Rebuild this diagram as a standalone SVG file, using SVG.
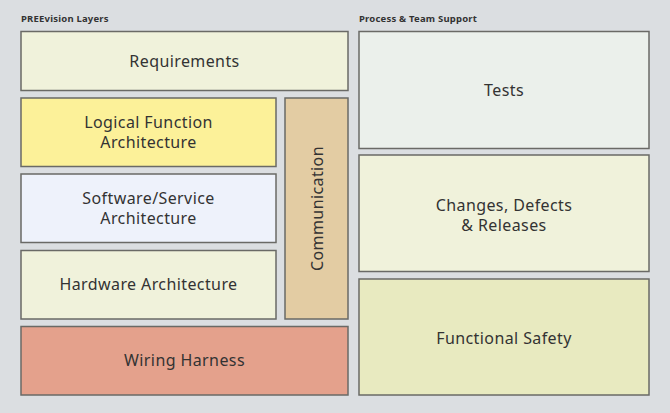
<svg xmlns="http://www.w3.org/2000/svg" width="670" height="413" viewBox="0 0 670 413">
<style>
.bg{fill:#dbdee1}
.box{stroke:#6a6a66;stroke-width:1.5}
.lbl{font-family:"Noto Sans","Liberation Sans",sans-serif;font-size:16px;letter-spacing:0.4px;fill:#333;text-anchor:middle;dominant-baseline:central}
.ttl{font-family:"Noto Sans","Liberation Sans",sans-serif;font-size:9.5px;letter-spacing:0.2px;font-weight:bold;fill:#333}
</style>
<rect class="bg" x="0" y="0" width="670" height="413"/>
<text class="ttl" x="21" y="22">PREEvision Layers</text>
<text class="ttl" x="359" y="22">Process &amp; Team Support</text>
<g id="requirements"><rect class="box" x="21" y="31.5" width="327" height="59" fill="#f0f2db"/><text class="lbl" x="184.5" y="61">Requirements</text></g>
<g id="logical"><rect class="box" x="21" y="98" width="255" height="68.5" fill="#fcf199"/><text class="lbl"><tspan x="148.5" y="122">Logical Function</tspan><tspan x="148.5" y="142">Architecture</tspan></text></g>
<g id="software"><rect class="box" x="21" y="174" width="255" height="68.5" fill="#eef2fb"/><text class="lbl"><tspan x="148.5" y="198">Software/Service</tspan><tspan x="148.5" y="218">Architecture</tspan></text></g>
<g id="hardware"><rect class="box" x="21" y="250.5" width="255" height="68.5" fill="#f0f2db"/><text class="lbl" x="148.5" y="284">Hardware Architecture</text></g>
<g id="communication"><rect class="box" x="285" y="98" width="63" height="221" fill="#e3cca3"/><text class="lbl" transform="translate(316.5,208.5) rotate(-90)" x="0" y="0">Communication</text></g>
<g id="wiring"><rect class="box" x="21" y="326.5" width="327" height="68.5" fill="#e4a18c"/><text class="lbl" x="184.5" y="360">Wiring Harness</text></g>
<g id="tests"><rect class="box" x="359" y="31.5" width="290" height="117" fill="#ebf0eb"/><text class="lbl" x="504" y="90">Tests</text></g>
<g id="changes"><rect class="box" x="359" y="155" width="290" height="116.5" fill="#f0f2db"/><text class="lbl"><tspan x="504" y="204.5">Changes, Defects</tspan><tspan x="504" y="224.5">&amp; Releases</tspan></text></g>
<g id="safety"><rect class="box" x="359" y="279" width="290" height="116" fill="#e8eac0"/><text class="lbl" x="504" y="338">Functional Safety</text></g>
<g id="connectors"/>
</svg>
